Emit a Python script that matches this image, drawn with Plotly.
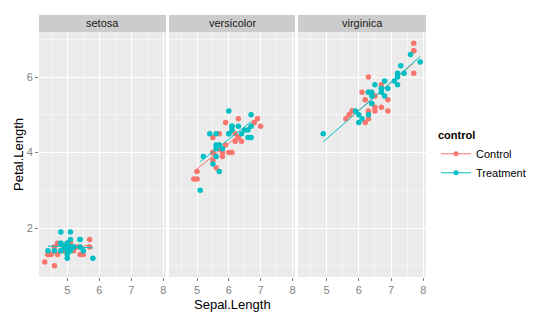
import plotly.graph_objects as go
import numpy as np

species = ["setosa", "versicolor", "virginica"]

setosa_sepal = [5.1,4.9,4.7,4.6,5.0,5.4,4.6,5.0,4.4,4.9,5.4,4.8,4.8,4.3,5.8,5.7,5.4,5.1,5.7,5.1,
                5.4,5.1,4.6,5.1,4.8,5.0,5.0,5.2,5.2,4.7,4.8,5.4,5.2,5.5,4.9,5.0,5.5,4.9,4.4,5.1,
                5.0,4.5,4.4,5.0,5.1,4.8,5.1,4.6,5.3,5.0]
setosa_petal = [1.4,1.4,1.3,1.5,1.4,1.7,1.4,1.5,1.4,1.5,1.5,1.6,1.4,1.1,1.2,1.5,1.3,1.4,1.7,1.5,
                1.7,1.5,1.0,1.7,1.9,1.6,1.6,1.5,1.4,1.6,1.6,1.5,1.5,1.4,1.5,1.2,1.3,1.4,1.3,1.5,
                1.3,1.3,1.3,1.6,1.9,1.4,1.6,1.4,1.5,1.4]
setosa_group = "TCCCTTCTTTCTTCTCCTCTTCCTTTCTCCTTTTCTCCCTTCCTTTCTCT"

versicolor_sepal = [7.0,6.4,6.9,5.5,6.5,5.7,6.3,4.9,6.6,5.2,5.0,5.9,6.0,6.1,5.6,6.7,5.6,5.8,6.2,5.6,
                    5.9,6.1,6.3,6.1,6.4,6.6,6.8,6.7,6.0,5.7,5.5,5.5,5.8,6.0,5.4,6.0,6.7,6.3,5.6,5.5,
                    5.5,6.1,5.8,5.0,5.6,5.7,5.7,6.2,5.1,5.7]
versicolor_petal = [4.7,4.5,4.9,4.0,4.6,4.5,4.7,3.3,4.6,3.9,3.5,4.2,4.0,4.7,3.6,4.4,4.5,4.1,4.5,3.9,
                    4.8,4.0,4.9,4.7,4.3,4.4,4.8,5.0,4.5,3.5,3.8,3.7,3.9,5.1,4.5,4.5,4.7,4.4,4.1,4.0,
                    4.4,4.6,4.0,3.3,4.2,4.2,4.2,4.3,3.0,4.1]
versicolor_group = "CTCCTCTCTTCCCTCTTTCTCCCTCTCTTTCTCTTTTCTCCTCCTCTCTC"

virginica_sepal = [6.3,5.8,7.1,6.3,6.5,7.6,4.9,7.3,6.7,7.2,6.5,6.4,6.8,5.7,5.8,6.4,6.5,7.7,7.7,6.0,
                   6.9,5.6,7.7,6.3,6.7,7.2,6.2,6.1,6.4,7.2,7.4,7.9,6.4,6.3,6.1,7.7,6.3,6.4,6.0,6.9,
                   6.7,6.9,5.8,6.8,6.7,6.7,6.3,6.5,6.2,5.9]
virginica_petal = [6.0,5.1,5.9,5.6,5.8,6.6,4.5,6.3,5.8,6.1,5.1,5.3,5.5,5.0,5.1,5.3,5.5,6.7,6.9,5.0,
                   5.7,4.9,6.7,4.9,5.7,6.0,4.8,4.9,5.6,5.8,6.1,6.4,5.6,5.1,5.6,6.1,5.6,5.5,4.8,5.4,
                   5.6,5.1,5.1,5.9,5.7,5.2,5.0,5.2,5.4,5.1]
virginica_group = "CCTCTTTTCTCTTCCCCCCTTCCCTTCTCTTTTCCCTTTCTCCTTCTCCT"

data = {
    "setosa": (setosa_sepal, setosa_petal, setosa_group),
    "versicolor": (versicolor_sepal, versicolor_petal, versicolor_group),
    "virginica": (virginica_sepal, virginica_petal, virginica_group),
}

groups = [("C", "Control", "#F8766D"), ("T", "Treatment", "#00BFC4")]
x_ticks = [5, 6, 7, 8]
y_ticks = [2, 4, 6]

W, H = 540, 321
def px(x): return x / W
def py(y): return (H - y) / H

domains = [(39, 166), (169, 295), (298, 426)]
top, bottom, strip_top = 32, 277, 15

fig = go.Figure()
for i, sp in enumerate(species):
    xs, ys, gs = data[sp]
    xs = np.array(xs); ys = np.array(ys)
    gs = np.array(list(gs))
    ax = "" if i == 0 else str(i + 1)
    for code, name, col in groups:
        m = gs == code
        fig.add_trace(go.Scatter(
            x=xs[m], y=ys[m], mode="markers", name=name, legendgroup=name,
            showlegend=False, xaxis="x" + ax, yaxis="y" + ax,
            marker=dict(color=col, size=5.5, line=dict(width=0))))
        b, a = np.polyfit(xs[m], ys[m], 1)
        lx = np.array([xs[m].min(), xs[m].max()])
        fig.add_trace(go.Scatter(
            x=lx, y=a + b * lx, mode="lines", name=name,
            legendgroup=name, showlegend=False, xaxis="x" + ax, yaxis="y" + ax,
            line=dict(color=col, width=1)))

# legend entries
for code, name, col in groups:
    fig.add_trace(go.Scatter(x=[None], y=[None], mode="lines+markers", name=name,
                             marker=dict(color=col, size=5), line=dict(color=col, width=1)))

layout = dict(
    width=W, height=H, margin=dict(l=0, r=0, t=0, b=0),
    paper_bgcolor="white", plot_bgcolor="#EBEBEB",
    font=dict(family="Liberation Sans, Arial, sans-serif", color="#000"),
    showlegend=True,
    legend=dict(x=px(436), y=py(125), xanchor="left", yanchor="top",
                title=dict(text="<b>control</b>", font=dict(size=11)),
                font=dict(size=11), bgcolor="rgba(0,0,0,0)", tracegroupgap=0),
)
shapes, annotations = [], []
for i, (l, r) in enumerate(domains):
    ax = "" if i == 0 else str(i + 1)
    xkey = "xaxis" + ax
    ykey = "yaxis" + ax
    layout[xkey] = dict(domain=[px(l), px(r)], range=[4.12, 8.08], anchor="y" + ax,
                        tickvals=x_ticks, ticks="outside", ticklen=3, tickcolor="#7F7F7F",
                        tickfont=dict(color="#7F7F7F", size=11), showgrid=True,
                        gridcolor="white", gridwidth=1, zeroline=False, showline=False,
                        minor=dict(showgrid=True, tick0=4.5, dtick=1, gridcolor="#F5F5F5",
                                   gridwidth=0.5))
    layout[ykey] = dict(domain=[py(bottom), py(top)], range=[0.705, 7.195], anchor="x" + ax,
                        tickvals=y_ticks, ticks="outside" if i == 0 else "",
                        ticklen=3, tickcolor="#7F7F7F", showticklabels=(i == 0),
                        tickfont=dict(color="#7F7F7F", size=11), showgrid=True,
                        gridcolor="white", gridwidth=1, zeroline=False, showline=False,
                        minor=dict(showgrid=True, tick0=1, dtick=2, gridcolor="#F5F5F5",
                                   gridwidth=0.5))
    shapes.append(dict(type="rect", xref="paper", yref="paper", x0=px(l), x1=px(r),
                       y0=py(top), y1=py(strip_top), fillcolor="#CCCCCC", line=dict(width=0)))
    annotations.append(dict(text=species[i], xref="paper", yref="paper",
                            x=px((l + r) / 2), y=py((top + strip_top) / 2), showarrow=False,
                            xanchor="center", yanchor="middle",
                            font=dict(size=11, color="#1A1A1A")))

annotations.append(dict(text="Sepal.Length", xref="paper", yref="paper", x=px(232), y=py(304),
                        showarrow=False, xanchor="center", yanchor="middle",
                        font=dict(size=13, color="#000")))
annotations.append(dict(text="Petal.Length", xref="paper", yref="paper", x=px(18), y=py(155),
                        showarrow=False, xanchor="center", yanchor="middle", textangle=-90,
                        font=dict(size=13, color="#000")))
layout["shapes"] = shapes
layout["annotations"] = annotations
fig.update_layout(**layout)
fig.write_html("out.html")
